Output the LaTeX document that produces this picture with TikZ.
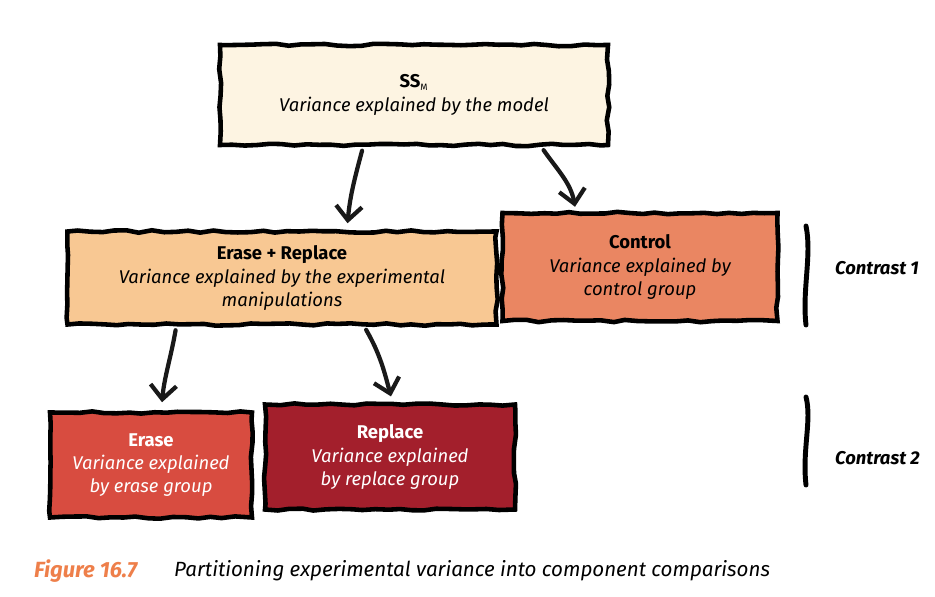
\documentclass[tikz,border=0pt]{standalone}
\usepackage{xcolor}
\usepackage{fontspec}
\setmainfont{Fira Sans}
\usepackage{tikz}
\usetikzlibrary{calc, arrows.meta, decorations.pathmorphing}
\definecolor{ssmcol}{HTML}{FDF4E2}
\definecolor{ercol}{HTML}{F8C893}
\definecolor{ctrlcol}{HTML}{EA8662}
\definecolor{erasecol}{HTML}{D84C40}
\definecolor{replcol}{HTML}{A31F2C}
\definecolor{figcol}{HTML}{EE7F4A}
\tikzstyle{box}=[draw=black, line width=2.6pt, align=center, inner sep=0,
  decorate, decoration={random steps, segment length=7pt, amplitude=0.7pt},
  font=\fontsize{10.5}{13.3}\selectfont]
\tikzstyle{arr}=[line width=2.4pt, -{Straight Barb[length=2.8mm, width=5.2mm, line width=2.4pt]},
  line cap=round, line join=round, color=black!90]
\tikzstyle{brace}=[line width=2.8pt, line cap=round]
\newcommand{\boxhead}[1]{{\bfseries #1}\\}

\begin{document}
\begin{tikzpicture}[x=0.2mm, y=-0.2mm]
\pgfmathsetseed{7}
\useasboundingbox (0,0) rectangle (935,597);
\node[box, fill=ssmcol, minimum width=77.6mm, minimum height=20mm] (ssm) at (414,95)
  {\boxhead{SS$_{\scriptscriptstyle\mathrm{M}}$}\itshape Variance explained by the model};
\node[box, fill=ercol, minimum width=85.8mm, minimum height=18.6mm] (er) at (282,278)
  {\boxhead{Erase + Replace}\itshape Variance explained by the experimental\\\itshape manipulations};
\node[box, fill=ctrlcol, minimum width=55mm, minimum height=21.6mm] (ctrl) at (640,267)
  {\boxhead{Control}\itshape Variance explained by\\\itshape control group};
\node[box, fill=erasecol, text=white, minimum width=40.4mm, minimum height=21mm] (erase) at (151,465)
  {\boxhead{Erase}\itshape Variance explained\\\itshape by erase group};
\node[box, fill=replcol, text=white, minimum width=50mm, minimum height=21mm] (repl) at (390,457)
  {\boxhead{Replace}\itshape Variance explained\\\itshape by replace group};
% arrows between levels
\draw[arr, shorten <=2pt, shorten >=1.2mm] ($(ssm.south west)!.37!(ssm.south east)$)
  to[out=-105, in=85] ($(er.north west)!.65!(er.north east)$);
\draw[arr, shorten <=2pt, shorten >=0.8mm] ($(ssm.south west)!.825!(ssm.south east)$)
  to[out=-55, in=100] ($(ctrl.north west)!.27!(ctrl.north east)$);
\draw[arr, shorten <=2pt, shorten >=1.6mm] ($(er.south west)!.256!(er.south east)$)
  to[out=-100, in=85] ($(erase.north west)!.55!(erase.north east)$);
\draw[arr, shorten <=2pt, shorten >=1.2mm] ($(er.south west)!.69!(er.south east)$)
  to[out=-60, in=105] ($(repl.north west)!.51!(repl.north east)$);
% contrasts
\draw[brace] (806,226) .. controls (812,255) and (802,290) .. (806,325);
\node[font=\bfseries\itshape\fontsize{10.5}{12}\selectfont, anchor=west] (c1) at (829,268) {Contrast 1};
\draw[brace] (806,397) .. controls (812,420) and (802,450) .. (806,485);
\node[font=\bfseries\itshape\fontsize{10.5}{12}\selectfont, anchor=west] (c2) at (829,458) {Contrast 2};
% caption
\node[anchor=west, text=figcol, font=\bfseries\itshape\fontsize{12.5}{14}\selectfont] (fig) at (28,571) {Figure 16.7};
\node[anchor=west, font=\itshape\fontsize{11.7}{13}\selectfont] (cap) at (168,571)
  {Partitioning experimental variance into component comparisons};
\end{tikzpicture}
\end{document}
